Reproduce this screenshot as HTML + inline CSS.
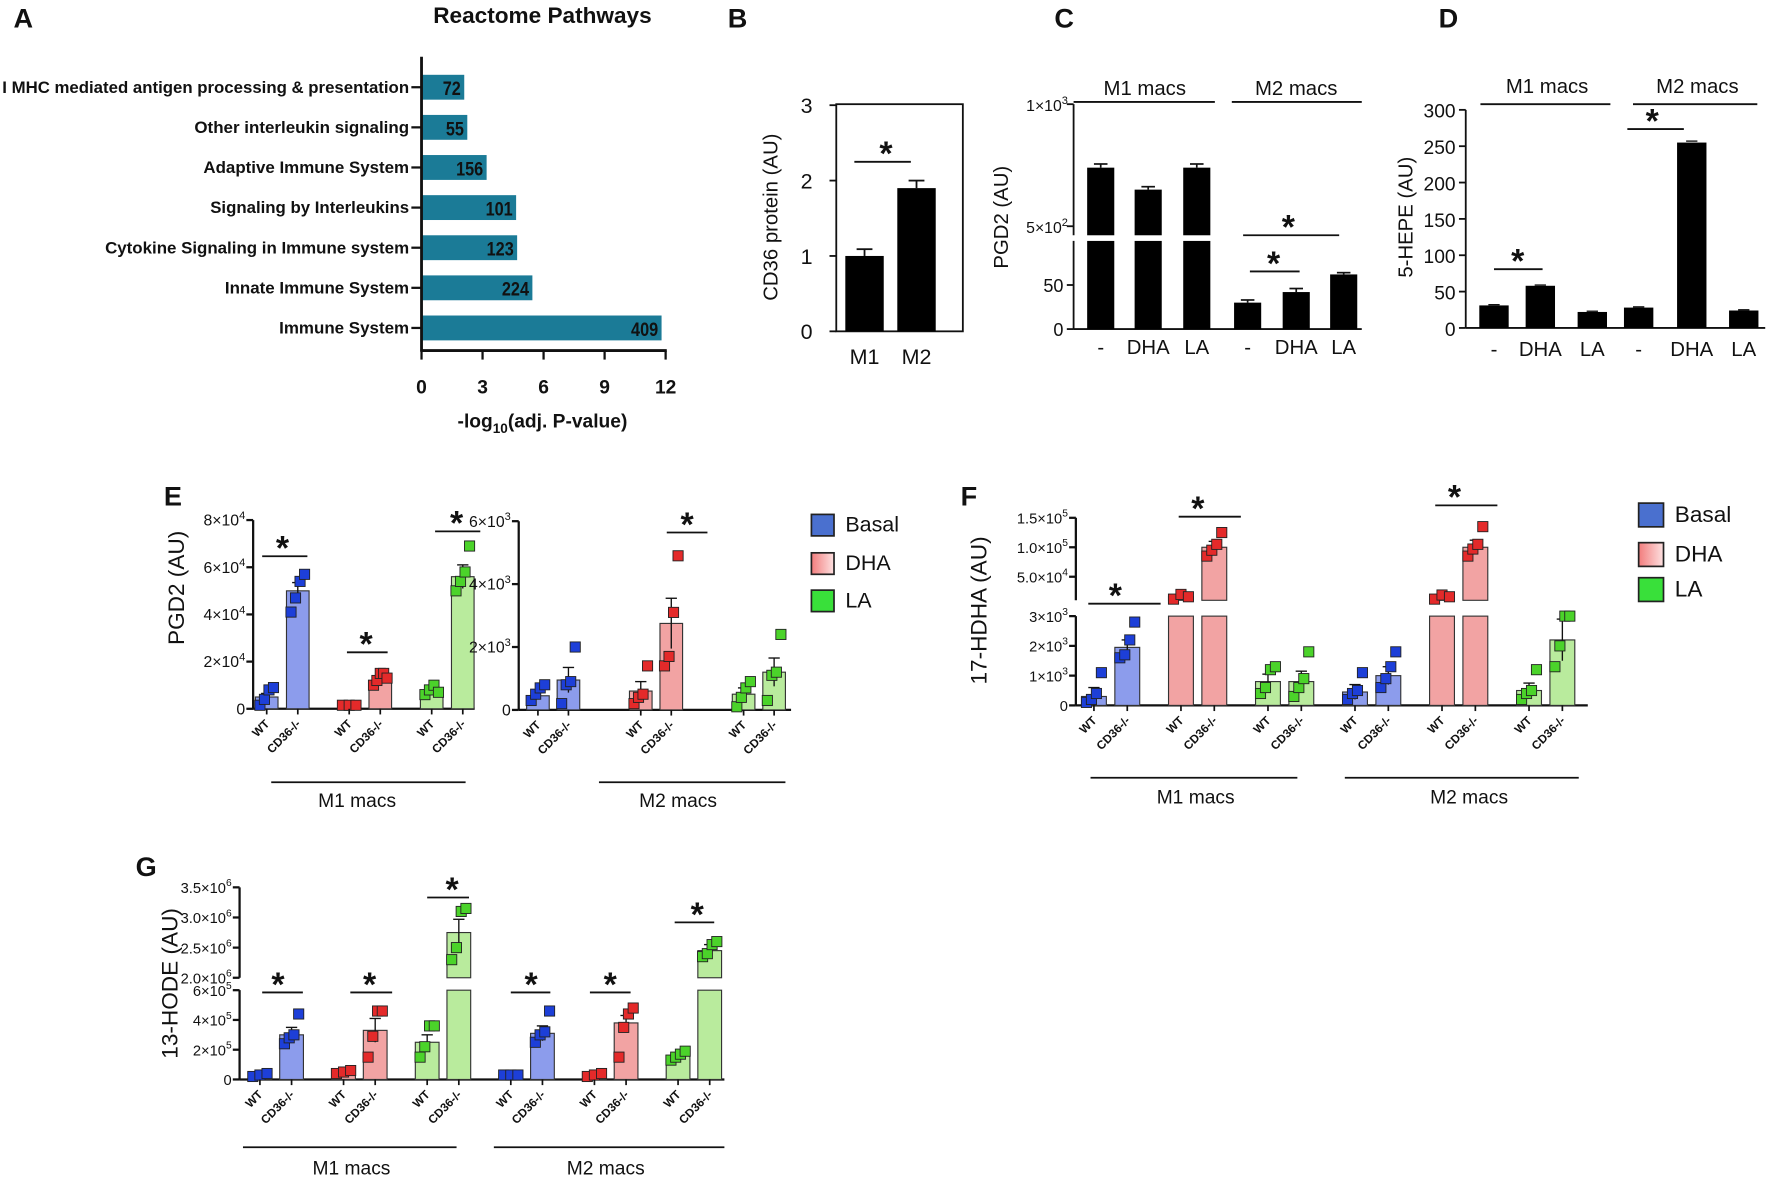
<!DOCTYPE html>
<html><head><meta charset="utf-8"><style>
html,body{margin:0;padding:0;background:#fff}
svg{display:block;font-family:"Liberation Sans",Arial,sans-serif}
</style></head><body>
<svg id="fig" width="1772" height="1178" viewBox="0 0 1568 1042" xmlns="http://www.w3.org/2000/svg"></svg>
<script>
// ---------- DATA ----------
const aPathways=["I MHC mediated antigen processing & presentation","Other interleukin signaling","Adaptive Immune System","Signaling by Interleukins","Cytokine Signaling in Immune system","Innate Immune System","Immune System"];
const aLogP=[2.1,2.25,3.2,4.65,4.7,5.45,11.8];
const aCounts=[72,55,156,101,123,224,409];
const aTicks=[0,3,6,9,12];

const bCats=["M1","M2"];
const bVals=[1.0,1.9];
const bSems=[0.09,0.1];
const bTicks=[0,1,2,3];

const cCats=["-","DHA","LA","-","DHA","LA"];
const cVals=[740,650,740,30,42,62];
const cSems=[15,12,15,3,4,2];

const dCats=["-","DHA","LA","-","DHA","LA"];
const dVals=[31,58,22,28,255,24];
const dSems=[1,1,1,1,2,1];
const dTicks=[0,50,100,150,200,250,300];

const eLMeans=[5000,50000,1500,12000,7000,56000];
const eLSems=[1500,3500,300,1000,1000,5000];
const eLPts=[[1500,4000,8000,9000],[41000,47000,54000,57000],[1500,1500,1500],[10000,12000,15000,15000,13000],[6000,8000,10000,7000],[50000,54000,58000,69000]];
const eRMeans=[450,950,600,2750,500,1200];
const eRSems=[100,400,300,800,200,450];
const eRPts=[[300,500,700,800],[200,800,900,2000],[200,400,500,1400],[1400,1700,3100,4900],[100,400,700,900],[300,1100,1200,2400]];

const fMeans=[300,1950,16000,100000,800,800,450,1000,16000,100000,500,2200];
const fSems=[300,250,2000,10000,250,350,250,300,2000,12000,250,700];
const fPts=[[100,200,400,1100],[1600,1700,2200,2800],[12000,20000,16000],[85000,95000,105000,125000],[400,600,1200,1300],[300,600,900,1800],[200,400,500,1100],[600,900,1300,1800],[12000,19000,16000],[85000,97000,105000,135000],[200,400,500,1200],[1300,2000,3000,3000]];

const gMeans=[30000,300000,50000,330000,250000,2750000,30000,310000,30000,380000,160000,2450000];
const gSems=[5000,50000,8000,80000,50000,220000,5000,50000,5000,50000,20000,100000];
const gPts=[[20000,30000,40000],[240000,280000,300000,440000],[40000,50000,60000],[150000,290000,460000,460000],[150000,220000,360000,360000],[2300000,2500000,3100000,3150000],[30000,30000,30000],[250000,300000,320000,460000],[20000,30000,40000],[150000,350000,440000,480000],[130000,150000,170000,190000],[2350000,2400000,2550000,2600000]];

const genos=["WT","CD36-/-"];
const groupColors=["blue","blue","red","red","green","green"];

// ---------- HELPERS ----------
const NS="http://www.w3.org/2000/svg";
const svg=document.getElementById("fig");
function mk(tag,parent){const e=document.createElementNS(NS,tag);parent.appendChild(e);return e;}
function at(e,o){for(const k in o)e.setAttribute(k,o[k]);return e;}
function grp(name){const g=mk("g",svg);return g;}
function line(p,x1,y1,x2,y2,w){return at(mk("line",p),{x1,y1,x2,y2,stroke:"#111","stroke-width":w||2});}
function txt(p,x,y,s,size,anchor,weight){const t=at(mk("text",p),{x,y,"font-size":size,"text-anchor":anchor||"middle","font-weight":weight||"normal",fill:"#111"});t.textContent=s;return t;}
function supTxt(p,x,y,base,exp,size){const t=at(mk("text",p),{x,y,"font-size":size,"text-anchor":"end",fill:"#111"});
 const a=mk("tspan",t);a.textContent=base;const b=at(mk("tspan",t),{dy:-6,"font-size":size*0.7});b.textContent=exp;return t;}
function vtitle(p,x,y,s,size){const t=txt(p,x,y,s,size);t.setAttribute("transform",`rotate(-90 ${x} ${y})`);return t;}
function star(p,x,x1,x2,ly){const t=txt(p,x,ly+3,"*",30,"middle","bold");line(p,x1,ly,x2,ly,1.6);}
function header(p,x,y,s,x1,x2,ly,size){const t=txt(p,x,y,s,size||18);line(p,x1,ly,x2,ly,1.6);}
const COL={blue:{fill:"#8c9cec",pt:"#1d3fd8"},red:{fill:"#f2a3a3",pt:"#e42a2a"},green:{fill:"#b9eb9d",pt:"#4bd32a"}};
function segScale(segs){return v=>{for(let i=segs.length-1;i>=0;i--){const s=segs[i];if(v>=s.v0||i===0){return s.p0+(v-s.v0)/(s.v1-s.v0)*(s.p1-s.p0);}}};}

// panel letters
[["A",12,24],["B",644,24],["C",933,24],["D",1273,24],["E",145,447],["F",850,447],["G",120,775]].forEach(d=>{const t=txt(svg,d[1],d[2],d[0],24,"start","bold");});

// ---------- PANEL A ----------
(function(){
 const g=grp("panel-a-reactome");
 const x0=373,k=18,yb=310;
 const xs=v=>x0+v*k;
 const t=txt(g,480,20,"Reactome  Pathways",20,"middle","bold");
 const lw=[360,190,182,176,269,163,115];
 aPathways.forEach((p,i)=>{
  const cy=77+i*35.5;
  const r=at(mk("rect",g),{x:x0,y:cy-11,width:xs(aLogP[i])-x0,height:22,fill:"#1b7b97"});
  
  const l=txt(g,362,cy+5,p,15,"end","bold");l.setAttribute("textLength",lw[i]);l.setAttribute("lengthAdjust","spacingAndGlyphs");
  
  line(g,364,cy,x0,cy,2);
  const c=txt(g,xs(aLogP[i])-3,cy+7,String(aCounts[i]),17,"end","bold");c.setAttribute("textLength",String(aCounts[i]).length*8);c.setAttribute("lengthAdjust","spacingAndGlyphs");
  
 });
 line(g,x0,50,x0,yb+1,2.5);line(g,x0-1,yb,xs(12)+1,yb,2.5);
 aTicks.forEach(v=>{line(g,xs(v),yb,xs(v),yb+8,2);const tt=txt(g,xs(v),yb+38,String(v),17,"middle","bold");});
 const xt=at(mk("text",g),{x:480,y:378,"font-size":17,"font-weight":"bold","text-anchor":"middle",fill:"#111"});
 
 mk("tspan",xt).textContent="-log";at(mk("tspan",xt),{dy:5,"font-size":12}).textContent="10";at(mk("tspan",xt),{dy:-5}).textContent="(adj. P-value)";
})();

// ---------- PANEL B ----------
(function(){
 const g=grp("panel-b-cd36");
 const y0=293,k=66.7,ys=v=>y0-v*k;
 at(mk("rect",g),{x:740,y:92,width:112,height:201,fill:"none",stroke:"#111","stroke-width":1.6});
 bTicks.forEach(v=>{line(g,734,ys(v),740,ys(v),1.6);const t=txt(g,719,ys(v)+7,String(v),19,"end");});
 const xc=[765,811];
 bCats.forEach((c,i)=>{
  const r=at(mk("rect",g),{x:xc[i]-17,y:ys(bVals[i]),width:34,height:y0-ys(bVals[i]),fill:"#000"});
  
  line(g,xc[i],ys(bVals[i]),xc[i],ys(bVals[i]+bSems[i]),1.6);line(g,xc[i]-7,ys(bVals[i]+bSems[i]),xc[i]+7,ys(bVals[i]+bSems[i]),1.6);
  const t=txt(g,xc[i],322,c,19);
 });
 star(g,784,756,806,143);
 const yt=vtitle(g,688,192,"CD36 protein (AU)",18);
})();

// ---------- PANEL C ----------
(function(){
 const g=grp("panel-c-pgd2");
 const segs=[{v0:0,v1:100,p0:291,p1:213},{v0:463,v1:1000,p0:208,p1:92}];
 const ys=segScale(segs),ax=950;
 line(g,ax,291,ax,213,1.6);line(g,ax,208,ax,92,1.6);line(g,ax,291,1205,291,1.6);
 [[0,"0"],[50,"50"]].forEach(d=>{line(g,ax-6,ys(d[0]),ax,ys(d[0]),1.6);const t=txt(g,941,ys(d[0])+6,d[1],16,"end");});
 [[500,"5×10","2"],[1000,"1×10","3"]].forEach(d=>{line(g,ax-6,ys(d[0]),ax,ys(d[0]),1.6);const t=supTxt(g,945,ys(d[0])+6,d[1],d[2],14);});
 const xc=[974,1016,1059,1104,1147,1189];
 cCats.forEach((c,i)=>{
  const v=cVals[i];
  segs.forEach(s=>{if(v>s.v0){const top=Math.min(v,s.v1);const r=at(mk("rect",g),{x:xc[i]-12,y:ys(top),width:24,height:s.p0-ys(top),fill:"#000"});}});
  const e=ys(v+cSems[i]);line(g,xc[i],ys(v),xc[i],e,1.5);line(g,xc[i]-6,e,xc[i]+6,e,1.5);
  const t=txt(g,xc[i],313,c,18);
 });
 star(g,1140,1100,1185,208);star(g,1127,1106,1150,240);
 header(g,1013,84,"M1 macs",950,1075,90);header(g,1147,84,"M2 macs",1090,1205,90);
 const yt=vtitle(g,892,192,"PGD2 (AU)",18);
})();

// ---------- PANEL D ----------
(function(){
 const g=grp("panel-d-5hepe");
 const y0=290,k=0.6433,ys=v=>y0-v*k,ax=1297;
 line(g,ax,y0,ax,ys(300),1.6);line(g,ax,y0,1562,y0,1.6);
 dTicks.forEach(v=>{line(g,ax-6,ys(v),ax,ys(v),1.6);const t=txt(g,1288,ys(v)+7,String(v),17,"end");});
 const xc=[1322,1363,1409,1450,1497,1543];
 dCats.forEach((c,i)=>{
  const r=at(mk("rect",g),{x:xc[i]-13,y:ys(dVals[i]),width:26,height:y0-ys(dVals[i]),fill:"#000"});
  const e=ys(dVals[i]+dSems[i]);line(g,xc[i]-5,e,xc[i]+5,e,1.2);
  const t=txt(g,xc[i],315,c,18);
 });
 star(g,1343,1322,1365,238);star(g,1462,1440,1490,114);
 header(g,1369,82,"M1 macs",1310,1425,92);header(g,1502,82,"M2 macs",1445,1555,92);
 const yt=vtitle(g,1250,192,"5-HEPE (AU)",18);
})();

// ---------- GROUPED SCATTER-BAR PANELS ----------
function dotPanel(o){
 const g=grp(o.name);
 const ys=segScale(o.segs),ax=o.ax,base=o.segs[0].p0;
 o.segs.forEach(s=>line(g,ax,s.p0,ax,s.p1,2));
 line(g,ax,base,o.axEnd,base,2);
 o.ticks.forEach(d=>{line(g,ax-6,ys(d[0]),ax,ys(d[0]),2);
  const t=d[2]?supTxt(g,ax-7,ys(d[0])+5,d[1],d[2],o.tf):txt(g,ax-7,ys(d[0])+5,d[1],o.tf,"end");
  });
 o.means.forEach((m,i)=>{
  const x=o.x0+Math.floor(i/2)*o.step+(i%2)*o.dx;
  const c=COL[groupColors[i%6]],w=o.bw;
  o.segs.forEach(s=>{if(m>s.v0){const top=Math.min(m,s.v1);const r=at(mk("rect",g),{x:x-w/2,y:ys(top),width:w,height:s.p0-ys(top),fill:c.fill,stroke:"#333","stroke-width":1});}});
  const e=ys(m+o.sems[i]),e2=ys(Math.max(m-o.sems[i],0));
  line(g,x,e2,x,e,1.2);line(g,x-5,e,x+5,e,1.2);
  const pts=o.pts[i];
  pts.forEach((p,j)=>{const off=pts.length>1?(j/(pts.length-1)-0.5)*w*0.6:0;
   const r=at(mk("rect",g),{x:x+off-4.5,y:ys(p)-4.5,width:9,height:9,fill:c.pt,stroke:"#222","stroke-width":0.8});
   });
  line(g,x,base,x,base+5,1.5);
  const lab=genos[i%2],lx=x+3,ly=base+14;
  const t=txt(g,lx,ly,lab,10.5,"end","bold");t.setAttribute("transform",`rotate(-45 ${lx} ${ly})`);
  
 });
 o.stars.forEach(s=>star(g,s[0],s[1],s[2],s[3]));
 o.headers.forEach(h=>header(g,h[0],h[1],h[2],h[3],h[4],h[5],17));
 if(o.title){const yt=vtitle(g,o.title[0],o.title[1],o.title[2],20);}
 return g;
}
dotPanel({name:"panel-e-left",ax:224,axEnd:420,segs:[{v0:0,v1:80000,p0:627,p1:460}],tf:14,
 ticks:[[0,"0"],[20000,"2×10","4"],[40000,"4×10","4"],[60000,"6×10","4"],[80000,"8×10","4"]],
 means:eLMeans,sems:eLSems,pts:eLPts,x0:236,step:73,dx:27.5,bw:20,
 stars:[[250,232,272,492],[324,307,343,577],[404,385,425,470]],
 headers:[[316,714,"M1 macs",240,412,692]],title:[163,520,"PGD2 (AU)"]});
dotPanel({name:"panel-e-right",ax:459,axEnd:700,segs:[{v0:0,v1:6000,p0:628,p1:461}],tf:14,
 ticks:[[0,"0"],[2000,"2×10","3"],[4000,"4×10","3"],[6000,"6×10","3"]],
 means:eRMeans,sems:eRSems,pts:eRPts,x0:476,step:91,dx:27,bw:20,
 stars:[[608,590,626,471]],headers:[[600,714,"M2 macs",530,695,692]],title:null});
dotPanel({name:"panel-f-17hdha",ax:952,axEnd:1405,segs:[{v0:0,v1:3000,p0:624,p1:545},{v0:10000,v1:150000,p0:531,p1:458}],tf:13,
 ticks:[[0,"0"],[1000,"1×10","3"],[2000,"2×10","3"],[3000,"3×10","3"],[50000,"5.0×10","4"],[100000,"1.0×10","5"],[150000,"1.5×10","5"]],
 means:fMeans,sems:fSems,pts:fPts,x0:968,step:77,dx:29.5,bw:22,
 stars:[[987,963,1027,534],[1060,1043,1098,457],[1287,1270,1325,447]],
 headers:[[1058,711,"M1 macs",965,1148,688],[1300,711,"M2 macs",1190,1397,688]],title:[873,540,"17-HDHA (AU)"]});
dotPanel({name:"panel-g-13hode",ax:212,axEnd:641,segs:[{v0:0,v1:600000,p0:955,p1:876},{v0:2000000,v1:3500000,p0:865,p1:785}],tf:13,
 ticks:[[0,"0"],[200000,"2×10","5"],[400000,"4×10","5"],[600000,"6×10","5"],[2000000,"2.0×10","6"],[2500000,"2.5×10","6"],[3000000,"3.0×10","6"],[3500000,"3.5×10","6"]],
 means:gMeans,sems:gSems,pts:gPts,x0:230,step:74,dx:28,bw:21,
 stars:[[246,232,268,878],[327,310,347,878],[400,378,415,794],[470,452,487,878],[540,522,558,878],[617,597,632,816]],
 headers:[[311,1039,"M1 macs",215,404,1015],[536,1039,"M2 macs",437,641,1015]],title:[157,870,"13-HODE (AU)"]});

// ---------- LEGENDS ----------
const defs=mk("defs",svg);
const gr=at(mk("linearGradient",defs),{id:"gr",x1:0,y1:0,x2:1,y2:0});
at(mk("stop",gr),{offset:0,"stop-color":"#f27d7d"});at(mk("stop",gr),{offset:1,"stop-color":"#fde1e1"});
function legend(name,x,ys,w,h,size,tx){
 const g=grp(name);
 ["Basal","DHA","LA"].forEach((s,i)=>{
  const key=["blue","red","green"][i];
  const fills={blue:"#4a70cf",red:"url(#gr)",green:"#39e03a"};
  const r=at(mk("rect",g),{x,y:ys[i],width:w,height:h,fill:fills[key],stroke:"#222","stroke-width":1.5});
  
  const t=txt(g,tx,ys[i]+h*0.8,s,size,"start");
 });
}
legend("legend-e",718,[455,489,522],20,19,19,748);
legend("legend-f",1450,[445,480,511],22,21,20,1482);
</script>
</body></html>
